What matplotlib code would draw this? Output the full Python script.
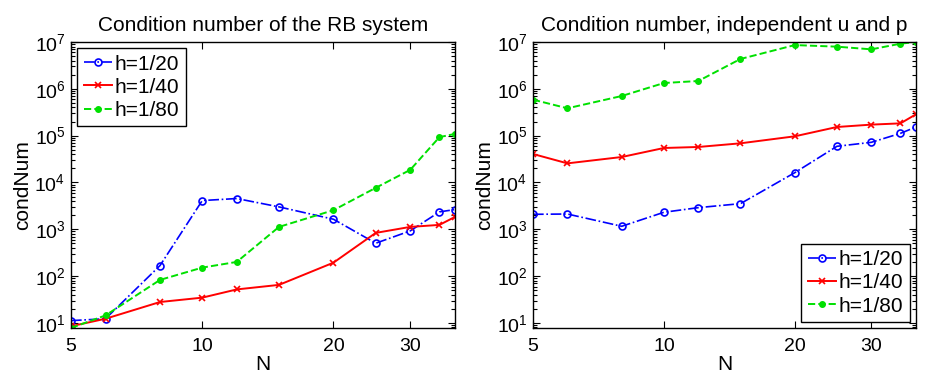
import matplotlib
matplotlib.use("Agg")
import matplotlib.pyplot as plt
from matplotlib.ticker import FixedLocator, FixedFormatter, NullLocator, NullFormatter

plt.rcParams['font.family'] = ['Liberation Sans', 'DejaVu Sans']
plt.rcParams['mathtext.default'] = 'regular'

N = [5, 6, 8, 10, 12, 15, 20, 25, 30, 35, 38]
labels = ['h=1/20', 'h=1/40', 'h=1/80']

rb_h20 = [11.2, 12.3, 168, 4110, 4540, 3010, 1640, 504, 925, 2355, 2640]
rb_h40 = [8.5, 12.3, 28, 34.7, 52, 65, 194, 838, 1125, 1242, 1840]
rb_h80 = [7.8, 14.5, 83, 152, 201, 1125, 2560, 7680, 18600, 93000, 109000]

ind_h20 = [2090, 2120, 1160, 2310, 2900, 3530, 16200, 59200, 72100, 112000, 153000]
ind_h40 = [40600, 25600, 35000, 54500, 57300, 68600, 96800, 153000, 172000, 183000, 286000]
ind_h80 = [587000, 384000, 703000, 1.33e6, 1.47e6, 4.34e6, 8.6e6, 7.95e6, 6.97e6, 9.2e6, 1.0e7]

xticks = [5, 10, 20, 30]
yexp = [1, 2, 3, 4, 5, 6, 7]
titles = ['Condition number of the RB system', 'Condition number, independent u and p']

W, H = 931, 376
fig = plt.figure(figsize=(W / 100, H / 100), dpi=100)
ax1 = fig.add_axes([71 / W, (H - 328) / H, (455 - 71) / W, 286 / H])
ax2 = fig.add_axes([533 / W, (H - 328) / H, (916 - 533) / W, 286 / H])

blue, red, green = '#0000ff', '#ff0000', '#00e000'

yticks = [10.0 ** e for e in yexp]
ylabels = ['$10^{%d}$' % e for e in yexp]
yminor = [m * 10.0 ** e for e in range(0, 7) for m in range(2, 10)]
yminor = [v for v in yminor if 7.8 <= v <= 1e7]

def draw(ax, d20, d40, d80, title, loc):
    ax.plot(N, d20, color=blue, linestyle='-.', marker='o', markersize=5,
            markerfacecolor='none', markeredgewidth=1.2, linewidth=1.2, label=labels[0])
    ax.plot(N, d40, color=red, linestyle='-', marker='x', markersize=4,
            markeredgewidth=1.2, linewidth=1.4, label=labels[1])
    ax.plot(N, d80, color=green, linestyle='--', marker='.', markersize=8,
            linewidth=1.4, label=labels[2])
    ax.set_xscale('log')
    ax.set_yscale('log')
    ax.set_xlim(5, 38)
    ax.set_ylim(7.8, 1e7)
    ax.xaxis.set_major_locator(FixedLocator(xticks))
    ax.xaxis.set_major_formatter(FixedFormatter([str(t) for t in xticks]))
    ax.xaxis.set_minor_locator(NullLocator())
    ax.xaxis.set_minor_formatter(NullFormatter())
    ax.yaxis.set_major_locator(FixedLocator(yticks))
    ax.yaxis.set_major_formatter(FixedFormatter(ylabels))
    ax.yaxis.set_minor_locator(FixedLocator(yminor))
    ax.yaxis.set_minor_formatter(NullFormatter())
    ax.tick_params(which='both', direction='in', top=True, right=True, labelsize=14, width=0.8)
    ax.tick_params(which='major', length=5)
    ax.tick_params(axis='x', which='major', pad=7)
    ax.tick_params(axis='y', which='major', pad=4)
    ax.tick_params(which='minor', length=3)
    for s in ax.spines.values():
        s.set_linewidth(1.0)
    ax.set_title(title, fontsize=15, pad=8)
    ax.set_xlabel('N', fontsize=15, labelpad=0)
    ax.set_ylabel('condNum', fontsize=15, labelpad=2)
    leg = ax.legend(loc=loc, fontsize=15, fancybox=False, framealpha=1,
                    edgecolor='black', handlelength=1.35, handletextpad=0.15,
                    borderpad=0.3, labelspacing=0.2, borderaxespad=0.3)
    leg.get_frame().set_linewidth(1.0)

draw(ax1, rb_h20, rb_h40, rb_h80, titles[0], 'upper left')
draw(ax2, ind_h20, ind_h40, ind_h80, titles[1], 'lower right')

fig.savefig('out.png', dpi=100)
